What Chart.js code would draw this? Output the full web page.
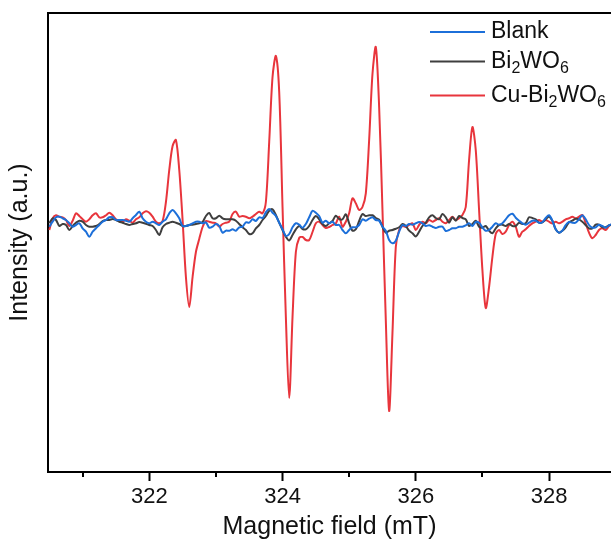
<!DOCTYPE html>
<html>
<head>
<meta charset="utf-8">
<script src="https://cdn.jsdelivr.net/npm/chart.js@4.4.1/dist/chart.umd.min.js"></script>
<style>
  html, body { margin: 0; padding: 0; background: #ffffff; overflow: hidden; }
  #wrap { width: 611px; height: 540px; position: relative; }
</style>
</head>
<body>
<div id="wrap"><canvas id="c" width="611" height="540"></canvas></div>
<script>
// ---------------- DATA ----------------
const seriesLabels = ['Blank', 'Bi₂WO₆', 'Cu-Bi₂WO₆'];
const xTitle = 'Magnetic field (mT)';
const yTitle = 'Intensity (a.u.)';

// Magnetic field (mT)
const field = [
  320.50, 320.55, 320.60, 320.65, 320.70, 320.75, 320.80, 320.85, 320.90, 320.95,
  321.00, 321.05, 321.10, 321.15, 321.20, 321.25, 321.30, 321.35, 321.40, 321.45,
  321.50, 321.55, 321.60, 321.65, 321.70, 321.75, 321.80, 321.85, 321.90, 321.95,
  322.00, 322.05, 322.10, 322.15, 322.20, 322.25, 322.30, 322.35, 322.40, 322.45,
  322.50, 322.55, 322.60, 322.65, 322.70, 322.75, 322.80, 322.85, 322.90, 322.95,
  323.00, 323.05, 323.10, 323.15, 323.20, 323.25, 323.30, 323.35, 323.40, 323.45,
  323.50, 323.55, 323.60, 323.65, 323.70, 323.75, 323.80, 323.85, 323.90, 323.95,
  324.00, 324.05, 324.10, 324.15, 324.20, 324.25, 324.30, 324.35, 324.40, 324.45,
  324.50, 324.55, 324.60, 324.65, 324.70, 324.75, 324.80, 324.85, 324.90, 324.95,
  325.00, 325.05, 325.10, 325.15, 325.20, 325.25, 325.30, 325.35, 325.40, 325.45,
  325.50, 325.55, 325.60, 325.65, 325.70, 325.75, 325.80, 325.85, 325.90, 325.95,
  326.00, 326.05, 326.10, 326.15, 326.20, 326.25, 326.30, 326.35, 326.40, 326.45,
  326.50, 326.55, 326.60, 326.65, 326.70, 326.75, 326.80, 326.85, 326.90, 326.95,
  327.00, 327.05, 327.10, 327.15, 327.20, 327.25, 327.30, 327.35, 327.40, 327.45,
  327.50, 327.55, 327.60, 327.65, 327.70, 327.75, 327.80, 327.85, 327.90, 327.95,
  328.00, 328.05, 328.10, 328.15, 328.20, 328.25, 328.30, 328.35, 328.40, 328.45,
  328.50, 328.55, 328.60, 328.65, 328.70, 328.75, 328.80, 328.85, 328.90, 328.95
];

// Blank (blue)
const blank = [
  -4.7, 0.3, 4.7, 5.3, 3.7, 2, -1.3, -4.7, -3, -1.3,
  -6.3, -9.7, -14.7, -9.7, -6.3, -3, 0.3, 2, 4.7, 4.7,
  2, 2, 2, 1.3, 0.3, 3.7, 7, 10.3, 3.7, 0.3,
  -1.3, 0.3, -1.3, -3, 0.3, 2.7, 8.7, 12, 8.7, 3.7,
  -4, -4, -3, -1.3, 0.3, 0.3, -1.3, -0.3, -5.7, -4.7,
  -2, -4, -10.7, -8.7, -8.7, -7.3, -8.7, -5.3, -4.7, -0.3,
  -0.7, 2.7, 1, 4.7, 4, 9.7, 13, 9.3, 6, -0.7,
  -7.3, -14, -12, -5.3, -1.3, -2.7, -5.7, -2, 4.7, 11.3,
  9.3, 6, -0.7, 1.3, -1.3, 0.3, -3, -3, -8, -11.3,
  -8, -5.3, -5.3, -3, 2.7, 1.3, 3.3, 4.7, 2, 1.3,
  -4.7, -8.7, -18, -21.3, -18.7, -9.7, -3, -4, -2, -2.7,
  -1.3, 0, -1.3, -4, -3.3, -4.7, -6, -4.7, -4.7, -9,
  -8, -6.3, -6.3, -4.7, -4.7, -3.3, -1.3, -4, 0, -0.7,
  -5.3, -8.7, -8, -4.7, -1.3, -2.7, -1.3, 2.7, 6.7, 8.3,
  4.3, 1.3, -1.3, -2.7, -0.7, 1.3, 1.3, -0.7, -0.3, 4,
  6.7, 1.3, -7.3, -10.7, -8.7, -3, 0, -0.7, -0.7, 2.7,
  6.7, 2.7, -3, -5.7, -5.3, -2.7, -4, -5.7, -3.3, -2
];

// Bi2WO6 (dark grey)
const bi2wo6 = [
  -1.3, 3.7, 2, -4, -2, -3, -8, -4, -0.7, 1.3,
  0.3, -3, -4.7, -4.7, -4, -2, 1, 2, 2, 3,
  2, 0.3, -0.7, -2, -3, -2, -1.3, 0, -0.7, -1.7,
  -3, -4, -8, -13, -5.3, -2, -0.7, 0.3, -0.7, -2,
  -4, -4, -3, -2.7, -2, -1.3, 0, 6, 9, 3.7,
  3.7, 6.3, 3.7, 2.7, 2.7, 2.7, 1.3, -2, -5.3, -8,
  -12, -11.3, -6.3, -3, 2, 6, 11.3, 12.7, 7, -0.7,
  -8, -14.7, -18.5, -13, -7.3, -4, -7, -7.3, -4, 2,
  6, 2.7, -2, -4, -1.3, 1, 6.3, 3, 2.7, 7.7,
  -1.3, -8.7, -7.3, 1, 8, 6, 6.7, 6.7, 4, 2.3,
  -4.7, -10.7, -8.7, -8, -6.7, -5.3, -2, -4, -8.7, -11.3,
  -14.5, -9.7, -4, -0.7, 4.7, 6.7, 4, 2.7, 8, 4.7,
  -0.7, 4.7, 1.3, 6, 4, 2.7, -4, -2, 1.3, -4.7,
  -5.7, -4, -8.7, -11.3, -6.3, -3, -2.7, -4, -2, -4,
  -4, -0.7, -2, -1.3, 4.7, 4, 2.7, -0.7, -0.3, 2.7,
  5.3, 1.3, -7.3, -10.7, -8.7, -5.3, -0.3, 1.3, 3.3, 2.7,
  0.3, -3, -6.3, -6.3, -2.7, -2.7, -5.3, -5.3, -3.3, -3
];

// Cu-Bi2WO6 (red)
const cuBi2wo6 = [
  -8, 3.7, 6.7, 5.3, 4.7, 2, -4, 1.3, 8.7, 6,
  2.7, 0.3, 2.7, 6.7, 8.7, 4.7, 4.7, 6.7, 9.3, 6.7,
  2.7, 1.3, 0.3, 2.7, 1.3, -0.7, 2.7, 4.7, 8.7, 10.7,
  9.3, 5.3, 0.3, -1.3, 1, 20, 52, 76, 82, 52,
  2, -55, -85, -55, -30, -17, -5, 1, 0.3, -0.7,
  -1.3, -4.7, -2, -0.7, 0.3, 8, 10.3, 5.3, 6, 5.3,
  3.7, 5.3, 8, 10.3, 8.7, 20, 80, 145, 166, 130,
  15, -95, -176, -95, -30, -16, -15, -18, -18, -10,
  -1.3, 0.3, -3, -6, -5, -3, -1.3, 5.3, -4.7, 0.3,
  8.7, 23.7, 18.7, 12, 15, 28.7, 82, 148, 175, 115,
  12, -98, -189, -111, -25, -8, -4, -5, -3, -1.3,
  -8, -3, 0.3, -1.3, 2, 0.3, 2, 3.7, 0.3, -1.3,
  2, 5.3, 2, 3.7, 7, 15, 62, 95, 72, 12,
  -48, -86, -65, -35, -12, -8, -12, -9.7, -3, 0.3,
  -4.7, -14.7, -9.7, -7.3, -4, -1.3, 0.3, 2, 0.3, 2,
  0.3, -1.3, 0.3, -1.3, 0.3, 2.7, 3.7, 5.3, 3.7, 5.3,
  7, -1.3, -10.7, -16.3, -13, -8, -6.3, -8, -4, -2
];

// Axis ranges
const xRange = [320.48, 328.93];
const yRange = [-250, 209];

// ---------------- STYLE ----------------
const FONT = "'Liberation Sans', Arial, Helvetica, sans-serif";
const colors = ['#1c6fd9', '#3f3f3f', '#e8353c'];
const toXY = (ys) => ys.map((v, i) => ({ x: field[i], y: v }));

const topFramePlugin = {
  id: 'topFrame',
  afterDraw(chart) {
    const { ctx, chartArea } = chart;
    ctx.save();
    ctx.strokeStyle = '#000';
    ctx.lineWidth = 2;
    ctx.beginPath();
    ctx.moveTo(chartArea.left - 1, chartArea.top);
    ctx.lineTo(chartArea.right + 2, chartArea.top);
    ctx.stroke();
    // minor ticks (odd values) using the x scale
    const xs = chart.scales.x;
    ctx.lineWidth = 2;
    xs.ticks.forEach(t => {
      if (Math.abs(t.value % 2) > 0.5) {
        const px = Math.round(xs.getPixelForValue(t.value));
        ctx.beginPath();
        ctx.moveTo(px, chartArea.bottom);
        ctx.lineTo(px, chartArea.bottom + 5);
        ctx.stroke();
      }
    });
    ctx.restore();
  }
};

const legendPlugin = {
  id: 'refLegend',
  afterDraw(chart) {
    const ctx = chart.ctx;
    const rowsY = [32, 61.5, 95.5];
    const subs = '₀₁₂₃₄₅₆₇₈₉';
    ctx.save();
    chart.data.datasets.forEach((ds, i) => {
      const y = rowsY[i];
      ctx.strokeStyle = ds.borderColor;
      ctx.lineWidth = 2;
      ctx.beginPath();
      ctx.moveTo(430, y);
      ctx.lineTo(485, y);
      ctx.stroke();
      ctx.fillStyle = '#111';
      ctx.textBaseline = 'middle';
      ctx.textAlign = 'left';
      let x = 491;
      let run = '';
      const flush = () => {
        if (run) {
          ctx.font = '23px ' + FONT;
          ctx.fillText(run, x, y);
          x += ctx.measureText(run).width;
          run = '';
        }
      };
      for (const ch of ds.label) {
        const k = subs.indexOf(ch);
        if (k >= 0) {
          flush();
          ctx.font = '16px ' + FONT;
          ctx.fillText(String(k), x, y + 7);
          x += ctx.measureText(String(k)).width;
        } else {
          run += ch;
        }
      }
      flush();
    });
    ctx.restore();
  }
};

new Chart(document.getElementById('c'), {
  type: 'line',
  data: {
    datasets: [
      { label: seriesLabels[0], data: toXY(blank), borderColor: colors[0] },
      { label: seriesLabels[1], data: toXY(bi2wo6), borderColor: colors[1] },
      { label: seriesLabels[2], data: toXY(cuBi2wo6), borderColor: colors[2] }
    ]
  },
  options: {
    responsive: false,
    animation: false,
    parsing: true,
    layout: { padding: { top: 13, left: 0, right: 0, bottom: 0 } },
    elements: {
      point: { radius: 0 },
      line: { borderWidth: 2, tension: 0.3, cubicInterpolationMode: 'default', fill: false }
    },
    plugins: { legend: { display: false }, tooltip: { enabled: false } },
    scales: {
      x: {
        type: 'linear',
        min: xRange[0],
        max: xRange[1],
        afterFit: (s) => { s.height = 68; },
        border: { display: true, color: '#000', width: 2 },
        grid: {
          display: true,
          drawOnChartArea: false,
          drawTicks: true,
          tickLength: 9,
          tickWidth: 2,
          tickColor: (c) => (c.tick && Math.abs(c.tick.value % 2) < 0.5) ? '#000' : 'rgba(0,0,0,0)'
        },
        ticks: {
          stepSize: 1,
          includeBounds: false,
          autoSkip: false,
          maxRotation: 0,
          padding: 3,
          color: '#111',
          font: { family: FONT, size: 22 },
          callback: (v) => (Math.abs(v % 2) < 0.5 ? String(v) : '')
        },
        title: {
          display: true,
          text: xTitle,
          color: '#111',
          font: { family: FONT, size: 25, lineHeight: 1 },
          padding: { top: 0, bottom: 0 }
        }
      },
      y: {
        type: 'linear',
        min: yRange[0],
        max: yRange[1],
        afterFit: (s) => { s.width = 48; },
        border: { display: true, color: '#000', width: 2 },
        grid: { display: true, drawOnChartArea: false, drawTicks: false },
        ticks: { display: false },
        title: {
          display: true,
          text: yTitle,
          color: '#111',
          font: { family: FONT, size: 25, lineHeight: 1 },
          padding: { top: 8, bottom: 0 }
        }
      }
    }
  },
  plugins: [topFramePlugin, legendPlugin]
});
</script>
</body>
</html>
